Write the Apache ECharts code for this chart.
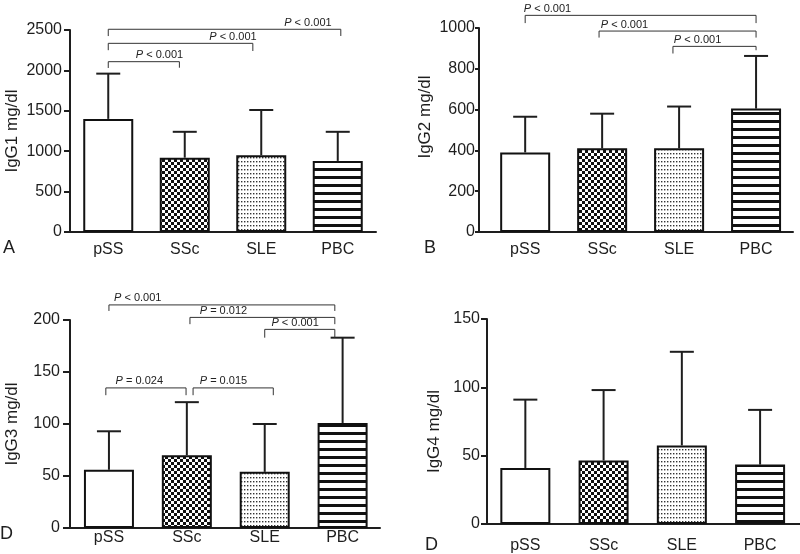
<!DOCTYPE html>
<html><head><meta charset="utf-8">
<script src="https://cdn.jsdelivr.net/npm/echarts@6/dist/echarts.min.js"></script>
<style>html,body{margin:0;padding:0;background:#fff}#c{width:800px;height:554px}</style>
</head><body><div id="c"></div>
<script>
// ---------- data ----------
const categories = ['pSS', 'SSc', 'SLE', 'PBC'];

const igg1Mean  = [1400, 920, 950, 880];
const igg1Upper = [1960, 1240, 1510, 1240];
const igg2Mean  = [390, 410, 410, 605];
const igg2Upper = [565, 580, 615, 863];
const igg3Mean  = [56, 70, 54, 101];
const igg3Upper = [93, 121, 100, 183];
const igg4Mean  = [41, 46.5, 57.5, 43.5];
const igg4Upper = [91, 98, 126, 83.5];

// brackets: [fromCat, toCat, level, leftLegEnd, rightLegEnd]
const igg1Brackets = [[0, 0.93, 2108, 2030, 2033], [0, 1.89, 2335, 2250, 2240], [0, 3.04, 2509, 2425, 2426]];
const igg1PText = ['P < 0.001', 'P < 0.001', 'P < 0.001'];
const igg2Brackets = [[0, 3.0, 1062, 1024, 1024], [0.96, 3.0, 985, 953, 953], [1.92, 3.0, 910, 875, 891]];
const igg2PText = ['P < 0.001', 'P < 0.001', 'P < 0.001'];
const igg3Brackets = [[0, 2.9, 214.5, 208.7, 208.7], [1.04, 2.9, 202.5, 196, 196], [2.0, 2.9, 191, 183, 183],
                      [-0.04, 0.99, 134.7, 127.7, 127.7], [1.08, 2.11, 134.7, 127.7, 127.7]];
const igg3PText = ['P < 0.001', 'P = 0.012', 'P < 0.001', 'P = 0.024', 'P = 0.015'];
const igg4Brackets = [];
const igg4PText = [];

const yTicks = { igg1: [0, 2500, 500], igg2: [0, 1000, 200], igg3: [0, 200, 50], igg4: [0, 150, 50] };

// ---------- styles ----------
const FONT = '"Liberation Sans", Arial, Helvetica, sans-serif';
const INK = '#1e1e1e';

function makeTile(w, h, draw) {
  const c = document.createElement('canvas');
  c.width = w; c.height = h;
  const g = c.getContext('2d');
  draw(g);
  return { image: c, repeat: 'repeat' };
}
const patterns = [
  '#ffffff',
  makeTile(6, 6, g => { g.fillStyle = '#111'; g.fillRect(0, 0, 6, 6); g.fillStyle = '#fff'; g.fillRect(0, 0, 3, 3); g.fillRect(3, 3, 3, 3); }),
  makeTile(3, 4, g => { g.fillStyle = '#fff'; g.fillRect(0, 0, 3, 4); g.fillStyle = '#333'; g.fillRect(1, 1, 1.4, 1.4); }),
  makeTile(8, 8, g => { g.fillStyle = '#fff'; g.fillRect(0, 0, 8, 8); g.fillStyle = '#111'; g.fillRect(0, 0, 8, 3); })
];

const panels = [
  { grid: { left: 70, top: 30, width: 306, height: 202 }, xr: [-0.5, 3.5], ticks: yTicks.igg1, name: 'IgG1 mg/dl',
    nameGap: 49, namePad: [0, 0, 0, 0], catMargin: 10, tickMargin: 8, tickLen: 6, mean: igg1Mean, upper: igg1Upper,
    brackets: igg1Brackets, ptext: igg1PText, pAt: [0.67, 1.63, 2.61] },
  { grid: { left: 479, top: 28, width: 314, height: 204 }, xr: [-0.6, 3.48], ticks: yTicks.igg2, name: 'IgG2 mg/dl',
    nameGap: 45, namePad: [0, 0, 0, 26], catMargin: 10, tickMargin: 4, tickLen: 4, mean: igg2Mean, upper: igg2Upper,
    brackets: igg2Brackets, ptext: igg2PText, pAt: [0.29, 1.29, 2.24] },
  { grid: { left: 70, top: 320, width: 310, height: 208 }, xr: [-0.5, 3.48], ticks: yTicks.igg3, name: 'IgG3 mg/dl',
    nameGap: 49, namePad: [0, 0, 0, 0], catMargin: 2, tickMargin: 10, tickLen: 7, mean: igg3Mean, upper: igg3Upper,
    brackets: igg3Brackets, ptext: igg3PText, pAt: [0.37, 1.47, 2.39, 0.39, 1.47] },
  { grid: { left: 487, top: 319, width: 313, height: 206 }, xr: [-0.49, 3.51], ticks: yTicks.igg4, name: 'IgG4 mg/dl',
    nameGap: 44, namePad: [0, 20, 0, 0], catMargin: 14, tickMargin: 7, tickLen: 6, mean: igg4Mean, upper: igg4Upper,
    brackets: igg4Brackets, ptext: igg4PText, pAt: [] }
];

const option = { animation: false, backgroundColor: '#fff', grid: [], xAxis: [], yAxis: [], series: [],
  graphic: [
    { type: 'text', left: 3, top: 239, style: { text: 'A', fontSize: 18, fontFamily: FONT, fill: INK } },
    { type: 'text', left: 424, top: 239, style: { text: 'B', fontSize: 18, fontFamily: FONT, fill: INK } },
    { type: 'text', left: 0, top: 525, style: { text: 'D', fontSize: 18, fontFamily: FONT, fill: INK } },
    { type: 'text', left: 425, top: 536, style: { text: 'D', fontSize: 18, fontFamily: FONT, fill: INK } }
  ] };

panels.forEach((p, k) => {
  option.grid.push(Object.assign({ containLabel: false }, p.grid));
  option.xAxis.push({
    type: 'value', gridIndex: k, min: p.xr[0], max: p.xr[1],
    axisLine: { onZero: false, lineStyle: { color: INK, width: 2 } },
    axisTick: { show: false }, splitLine: { show: false },
    axisLabel: { customValues: [0, 1, 2, 3], formatter: v => categories[Math.round(v)], margin: p.catMargin,
      fontSize: 16, fontFamily: FONT, color: INK }
  });
  option.yAxis.push({
    type: 'value', gridIndex: k, min: p.ticks[0], max: p.ticks[1], interval: p.ticks[2],
    name: p.name, nameLocation: 'middle', nameGap: p.nameGap,
    nameTextStyle: { fontSize: 17, fontFamily: FONT, color: INK, padding: p.namePad },
    axisLine: { show: true, onZero: false, lineStyle: { color: INK, width: 2 } },
    axisTick: { show: true, length: p.tickLen, lineStyle: { color: INK, width: 2 } },
    splitLine: { show: false },
    axisLabel: { margin: p.tickMargin, fontSize: 16, fontFamily: FONT, color: INK, formatter: v => String(v) }
  });
  // error bars (upper only)
  option.series.push({
    type: 'custom', xAxisIndex: k, yAxisIndex: k, z: 1, silent: true,
    data: p.mean.map((m, i) => [i, m, p.upper[i]]),
    encode: { x: 0, y: [1, 2] },
    renderItem: (params, api) => {
      const p0 = api.coord([api.value(0), api.value(1)]);
      const p1 = api.coord([api.value(0), api.value(2)]);
      return { type: 'group', children: [
        { type: 'line', shape: { x1: p0[0], y1: p0[1], x2: p1[0], y2: p1[1] }, style: { stroke: INK, lineWidth: 2 } },
        { type: 'line', shape: { x1: p1[0] - 12, y1: p1[1], x2: p1[0] + 12, y2: p1[1] }, style: { stroke: INK, lineWidth: 2 } }
      ] };
    }
  });
  // bars
  option.series.push({
    type: 'bar', xAxisIndex: k, yAxisIndex: k, z: 2, barWidth: 50, silent: true,
    data: p.mean.map((m, i) => ({ value: [i, m], itemStyle: { color: patterns[i] } })),
    itemStyle: { borderColor: '#111', borderWidth: 2 }
  });
  // significance brackets
  if (p.brackets.length) {
    option.series.push({
      type: 'custom', xAxisIndex: k, yAxisIndex: k, z: 3, silent: true, clip: false,
      data: p.brackets,
      encode: { x: [0, 1], y: [2, 3, 4] },
      renderItem: (params, api) => {
        const i = params.dataIndex;
        const x1 = api.value(0), x2 = api.value(1), y = api.value(2);
        const a = api.coord([x1, api.value(3)]), b = api.coord([x1, y]), c = api.coord([x2, y]), d = api.coord([x2, api.value(4)]);
        const t = api.coord([p.pAt[i], y]);
        const txt = p.ptext[i].replace(/^P/, '{i|P}');
        return { type: 'group', children: [
          { type: 'polyline', shape: { points: [a, b, c, d] }, style: { stroke: '#333', lineWidth: 1, fill: null } },
          { type: 'text', x: t[0], y: t[1] - 1, style: { text: txt, align: 'center', verticalAlign: 'bottom',
            fontSize: 11, fontFamily: FONT, fill: '#222',
            rich: { i: { fontStyle: 'italic', fontSize: 11, fontFamily: FONT, fill: '#222' } } } }
        ] };
      }
    });
  }
});

const chart = echarts.init(document.getElementById('c'), null, { renderer: 'canvas' });
chart.setOption(option);
</script>
</body></html>
